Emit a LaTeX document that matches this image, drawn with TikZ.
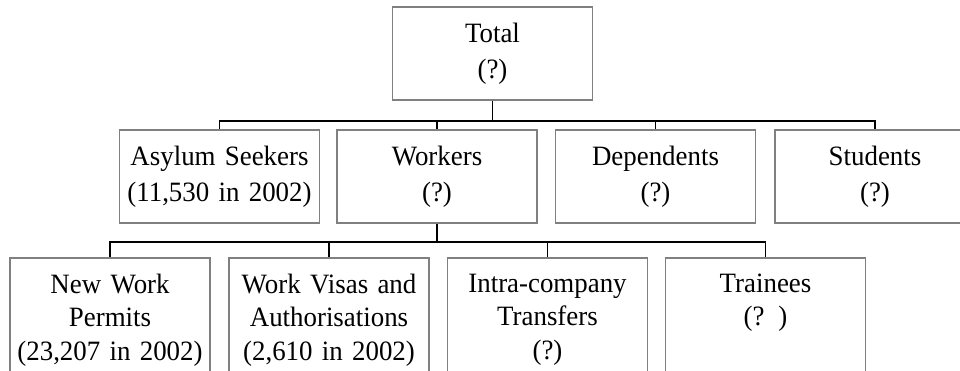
\documentclass[tikz,border=0pt]{standalone}
\usepackage{fontspec}
\setmainfont[FakeStretch=0.96]{Liberation Serif}
\usetikzlibrary{positioning, calc}
\definecolor{bx}{HTML}{808080}

\begin{document}
\begin{tikzpicture}[x=1pt, y=-1pt,
    box/.style={draw=bx, line width=1.5pt, align=center, text width=188pt,
        inner xsep=6pt, inner ysep=16pt, font=\fontsize{28pt}{36pt}\selectfont},
    tall/.style={box, minimum height=86pt},
    low/.style={box, anchor=north, font=\fontsize{28pt}{33.5pt}\selectfont},
    link/.style={draw=black, line width=1.6pt}]
    \useasboundingbox (0,0) rectangle (960,371);
    \clip (0,0) rectangle (960,371);

    % Top level
    \node[tall, minimum height=85pt] (total) at (492.5,53.5) {Total\\(?)};

    % Second row
    \node[tall] (asylum) at (219.5,176.5) {Asylum Seekers\\(11,530 in 2002)};
    \node[tall] (workers) at (437,176.5) {Workers\\(?)};
    \node[tall] (depend) at (655.5,176.5) {Dependents\\(?)};
    \node[tall] (students) at (875,176.5) {Students\\(?)};

    % Third row (workers)
    \node[low] (permits) at (110,257) {New Work\\Permits\\(23,207 in 2002)};
    \node[low] (visas) at (329,257) {Work Visas and\\Authorisations\\(2,610 in 2002)};
    \node[low] (intra) at (547.5,257) {Intra-company\\Transfers\\(?)};
    \node[low] (trainees) at (765.5,257) {Trainees\\(? )\\~};

    % Connectors
    \foreach \n in {asylum, workers, depend, students}
        \draw[link] (total.south) -- ++(0,20) -| (\n.north);
    \foreach \n in {permits, visas, intra, trainees}
        \draw[link] (workers.south) -- ++(0,18) -| (\n.north);
\end{tikzpicture}
\end{document}
